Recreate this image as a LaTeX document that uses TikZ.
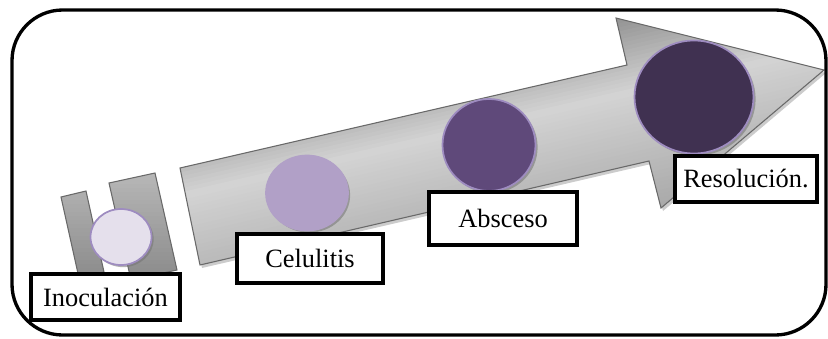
\documentclass[tikz,border=0pt]{standalone}
\usepackage{fontspec}
\setmainfont{Liberation Serif}
\usepackage{tikz}
\usetikzlibrary{shapes.geometric, shadows}
\definecolor{cLilac}{RGB}{229,224,236}
\definecolor{cMauve}{RGB}{177,160,199}
\definecolor{cPlum}{RGB}{95,73,122}
\definecolor{cAubergine}{RGB}{64,49,81}
\definecolor{cRim}{RGB}{158,140,192}
\definecolor{cEdge}{RGB}{105,105,105}
\tikzset{
	stage/.style   ={ellipse, draw=cRim, line width=1.3pt, inner sep=0pt, drop shadow={shadow xshift=1.6pt, shadow yshift=-1.6pt, fill=black!55, opacity=0.55}},
	stagebox/.style={rectangle, draw=black, line width=3.4pt, fill=white, align=center, inner sep=2pt},
	outline/.style ={draw=cEdge, line width=0.8pt},
	arrowshade/.style={fill=black!20},
}
\def\arrowpath{(180,168) -- (627,65) -- (616,18) -- (824,70) -- (661,208) -- (649,161) -- (200,265) -- cycle}
\def\barpaths{(61,197) -- (86,191) -- (104,272) -- (79,278) -- cycle (109,183) -- (155,173) -- (177,270) -- (131,280) -- cycle}
\begin{document}
\begin{tikzpicture}[x=0.75pt, y=-0.75pt, font=\fontsize{19.8}{22}\selectfont]
	\useasboundingbox (0,0) rectangle (828,339);
	% broken tail
	\begin{scope}
		\clip \barpaths;
		\foreach \yy in {168,172,...,284} {
			\pgfmathsetmacro\s{28+18*(\yy-170)/110}
			\fill[black!\s] (50,\yy) rectangle (190,\yy+4.6);
		}
	\end{scope}
	\draw[outline] \barpaths;
	% main arrow, shaded across its axis
	\fill[arrowshade, shift={(2,3)}] \arrowpath;
	\begin{scope}
		\clip \arrowpath;
		\foreach \d in {150,154,...,370} {
			\pgfmathsetmacro\s{\d<235 ? 17+25*(235-\d)/75 : (\d<300 ? 17+9*(\d-235)/65 : 26+8*(\d-300)/60)}
			\fill[black!\s] (150,\d-34.56) -- (850,\d-195.84) -- (850,\d-191.24) -- (150,\d-29.96) -- cycle;
		}
	\end{scope}
	\draw[outline] \arrowpath;
	% stages
	\node[stage, fill=cLilac, minimum width=45.75pt, minimum height=42pt] (inoc) at (121,237) {};
	\node[stage, fill=cMauve, draw=cMauve, minimum width=61.5pt, minimum height=56.25pt] (celu) at (307,193) {};
	\node[stage, fill=cPlum, minimum width=69.75pt, minimum height=69pt] (absc) at (489,145) {};
	\node[stage, fill=cAubergine, minimum width=89.25pt, minimum height=84.75pt] (reso) at (694,97) {};
	\node[stagebox, minimum width=111.75pt, minimum height=34.5pt] (inocbox) at (105.5,297) {Inoculación};
	\node[stagebox, minimum width=109.5pt, minimum height=36.75pt] (celubox) at (310,258.5) {Celulitis};
	\node[stagebox, minimum width=111pt, minimum height=39.75pt] (abscbox) at (503,218.5) {Absceso};
	\node[stagebox, minimum width=106.5pt, minimum height=34.5pt] (resobox) at (746,179) {Resolución.};
	% frame
	\draw[line width=2.5pt, rounded corners=38pt] (12,10) rectangle (826,335);
\end{tikzpicture}
\end{document}
